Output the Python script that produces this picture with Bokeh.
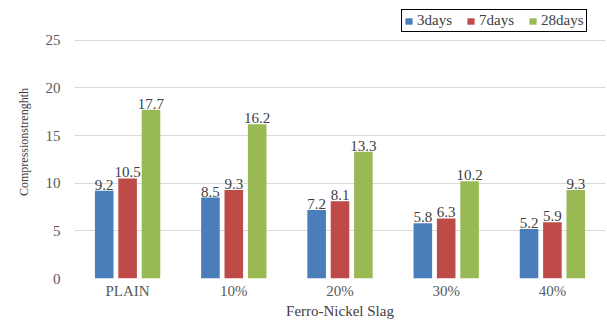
from bokeh.plotting import figure
from bokeh.models import ColumnDataSource, FactorRange, Range1d, FixedTicker, Legend, LegendItem, LabelSet
from bokeh.transform import dodge
from bokeh.embed import file_html
from bokeh.resources import INLINE

categories = ["PLAIN", "10%", "20%", "30%", "40%"]
days3 = [9.2, 8.5, 7.2, 5.8, 5.2]
days7 = [10.5, 9.3, 8.1, 6.3, 5.9]
days28 = [17.7, 16.2, 13.3, 10.2, 9.3]
series_names = ["3days", "7days", "28days"]
colors = ["#4a7ebb", "#be4b48", "#98b954"]
y_ticks = [0, 5, 10, 15, 20, 25]

src = ColumnDataSource(dict(
    cat=categories, d3=days3, d7=days7, d28=days28,
    l3=[f"{v}" for v in days3], l7=[f"{v}" for v in days7], l28=[f"{v}" for v in days28],
))

FONT = "Liberation Serif"

p = figure(width=607, height=321, x_range=FactorRange(*categories, range_padding=0),
           y_range=Range1d(0, 28.65), output_backend="svg", toolbar_location=None,
           min_border_left=74, min_border_right=2, min_border_top=5, min_border_bottom=41)
p.outline_line_color = None
p.background_fill_color = "white"

bw = 0.175
offs = [-0.22, 0.0, 0.22]
cols = ["d3", "d7", "d28"]
labs = ["l3", "l7", "l28"]
items = []
for name, c, col, lab, off in zip(series_names, colors, cols, labs, offs):
    r = p.vbar(x=dodge("cat", off, range=p.x_range), top=col, width=bw, source=src,
               fill_color=c, line_color=None)
    items.append(LegendItem(label=name, renderers=[r]))
    ls = LabelSet(x=dodge("cat", off, range=p.x_range), y=col, text=lab, source=src,
                  text_align="center", text_baseline="bottom", y_offset=1,
                  text_font=FONT, text_font_size="15px", text_color="#404040")
    p.add_layout(ls)

legend = Legend(items=items, orientation="horizontal", location=(327, 246),
                label_text_font=FONT, label_text_font_size="15px", label_text_color="#404040",
                glyph_width=9, glyph_height=8, label_standoff=4, spacing=14,
                padding=2, margin=0, border_line_color="#000000", border_line_width=1.5,
                border_line_alpha=1.0, label_height=12)
p.add_layout(legend)

p.yaxis.ticker = FixedTicker(ticks=y_ticks)
p.ygrid.ticker = FixedTicker(ticks=y_ticks)
p.ygrid.grid_line_color = "#d9d9d9"
p.xgrid.grid_line_color = None
for ax in (p.xaxis[0], p.yaxis[0]):
    ax.axis_line_color = None
    ax.major_tick_line_color = None
    ax.minor_tick_line_color = None
    ax.major_tick_in = 0
    ax.major_tick_out = 0
    ax.major_label_text_font = FONT
    ax.major_label_text_font_size = "15px"
    ax.major_label_text_color = "#595959"
    ax.axis_label_text_font = FONT
    ax.axis_label_text_font_style = "normal"
    ax.axis_label_text_color = "#404040"
p.xaxis.axis_label = "Ferro-Nickel Slag"
p.xaxis.axis_label_text_font_size = "15px"
p.xaxis.major_label_standoff = 4
p.xaxis.axis_label_standoff = 1
p.yaxis.axis_label = "Compressionstrenghth"
p.yaxis.axis_label_text_font_size = "12px"
p.yaxis.major_label_standoff = 14
p.yaxis.axis_label_standoff = 12

open("out.html", "w").write(file_html(p, INLINE))
